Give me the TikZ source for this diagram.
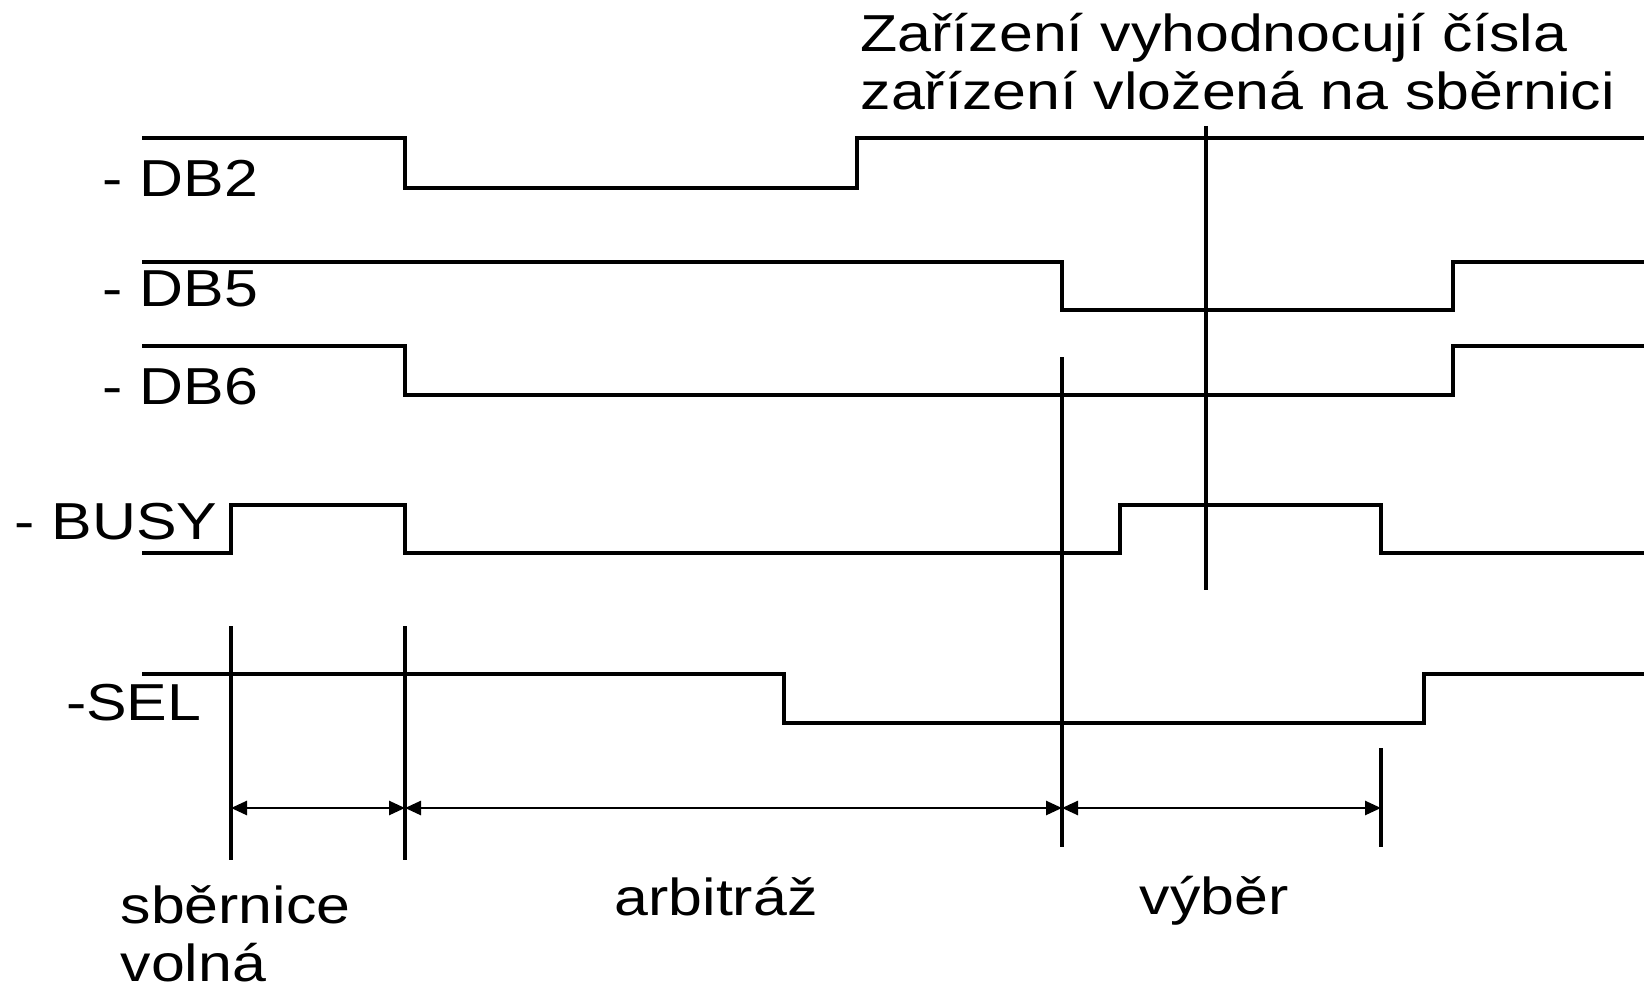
\documentclass[tikz,border=0pt]{standalone}
\usepackage{fontspec}
\setmainfont{Liberation Sans}[FakeStretch=1.17]
\usetikzlibrary{arrows.meta}

\begin{document}
\begin{tikzpicture}[x=0.5pt, y=-0.5pt, line width=1.6pt,
  span/.style={{Triangle[length=8pt,width=7pt]}-{Triangle[length=8pt,width=7pt]}, line width=1.3pt},
  lbl/.style={font=\fontsize{26}{29}\selectfont, inner sep=0pt}]
\useasboundingbox (0,0) rectangle (1644,990);

%signal names
\node[lbl, anchor=base east] (db2) at (260,197) {- DB2};
\node[lbl, anchor=base east] (db5) at (260,306) {- DB5};
\node[lbl, anchor=base east] (db6) at (260,404) {- DB6};
\node[lbl, anchor=base east] (busy) at (219,539) {- BUSY};
\node[lbl, anchor=base east] (sel) at (203,720) {-SEL};

%waveforms
\draw (142,138) -| (405,188) -| (857,138) -- (1644,138);
\draw (142,262) -| (1062,310) -| (1453,262) -- (1644,262);
\draw (142,346) -| (405,395) -| (1453,346) -- (1644,346);
\draw (142,553) -| (231,505) -| (405,553) -| (1120,505) -| (1381,553) -- (1644,553);
\draw (142,674) -| (784,723) -| (1424,674) -- (1644,674);

%time marks
\draw (231,626) -- (231,860);
\draw (405,626) -- (405,860);
\draw (1062,357) -- (1062,847);
\draw (1206,126) -- (1206,590);
\draw (1381,748) -- (1381,847);

\coordinate (free) at (231,808);
\coordinate (arb) at (405,808);
\coordinate (sel0) at (1062,808);
\coordinate (sel1) at (1381,808);
\draw[span] (free) -- (arb);
\draw[span] (arb) -- (sel0);
\draw[span] (sel0) -- (sel1);

%phase labels (base of a two-line node is its last line)
\node[lbl, anchor=base west, align=left] (note) at (859,110)
  {Zařízení vyhodnocují čísla\\zařízení vložená na sběrnici};
\node[lbl, anchor=base west, align=left] (freelbl) at (119,981) {sběrnice\\volná};
\node[lbl, anchor=base west] (arblbl) at (613,915) {arbitráž};
\node[lbl, anchor=base west] (sellbl) at (1138,914) {výběr};
\end{tikzpicture}
\end{document}
